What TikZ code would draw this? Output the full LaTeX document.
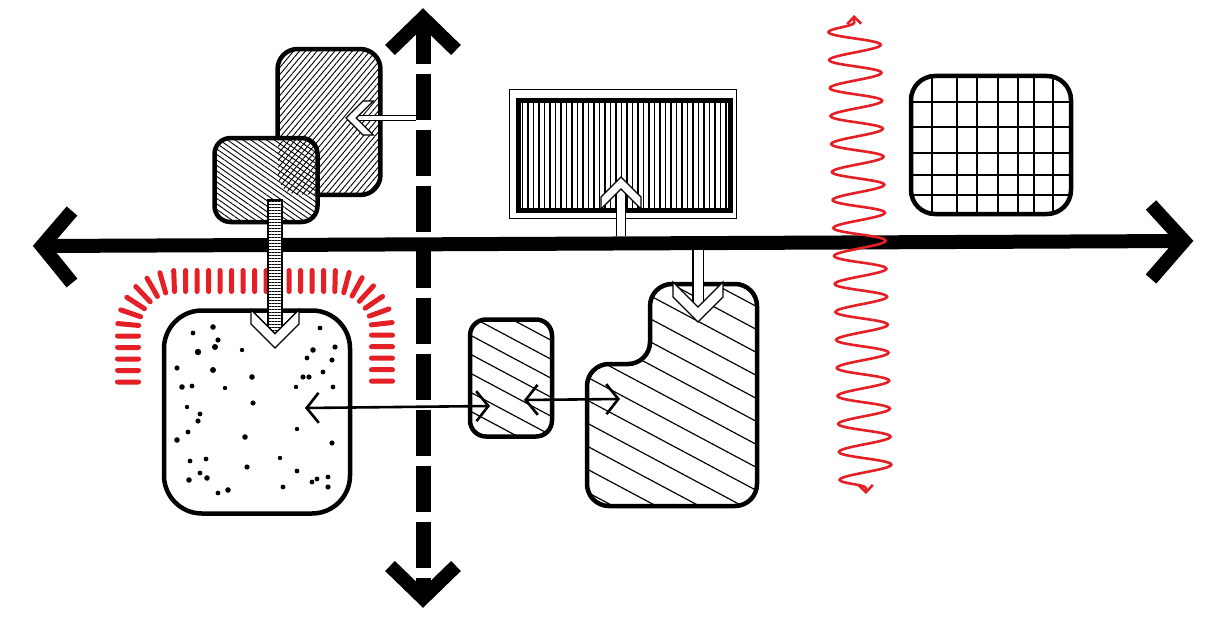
\documentclass[tikz,border=0pt]{standalone}
\usetikzlibrary{patterns.meta,decorations.pathmorphing,decorations.pathreplacing,arrows.meta,calc}
\definecolor{skred}{RGB}{228,32,38}
\tikzset{
  pics/chevron/.style={code={\draw[line width=1.3pt, fill=white, line join=miter] (0,0) -- (-1,1) -- (-1.6,1) -- (-0.6,0) -- (-1.6,-1) -- (-1,-1) -- cycle;}},
}
\begin{document}
\begin{tikzpicture}[x=1pt,y=-1pt,
  box/.style={draw=black, line width=4.5pt, inner sep=0pt, rounded corners=#1},
  axisline/.style={line width=14pt, black},
  chev/.style={line width=14pt, line join=miter, line cap=butt},
  hollow/.style={draw=black, line width=1.3pt, double=white, double distance=#1},
  thinarrow/.style={line width=2.6pt, {Straight Barb[length=12pt,width=30pt]}-{Straight Barb[length=12pt,width=30pt]}},
  redtick/.style={draw=skred, line width=5pt, line cap=round, decorate, decoration={ticks, segment length=11.5pt, amplitude=10.5pt}},
  wave/.style={draw=skred, line width=2.6pt, decorate, decoration={snake, amplitude=26pt, segment length=28pt, pre length=6pt, post length=6pt}},
  hatchline/.style={line width=1.2pt},
]
\path[use as bounding box, fill=white] (0,0) rectangle (1205,618);

% ---------- axes ----------
\coordinate (hL) at (42,246); \coordinate (hR) at (1184,241);
\draw[axisline] (hL) -- (hR);
\draw[chev] (72,211) -- (hL) -- (72,283);
\draw[chev] (1151,205) -- (hR) -- (1151,279);
\coordinate (vT) at (423,18); \coordinate (vB) at (423,598);
\draw[line width=15pt, dash pattern=on 46pt off 10pt] (vT) -- (vB);
\draw[chev] (390,50) -- (vT) -- (456,50);
\draw[chev] (390,566) -- (vB) -- (456,566);

% ---------- upper-left overlapping boxes ----------
\node[inner sep=0pt, rounded corners=20pt, minimum width=102pt, minimum height=145pt,
      pattern={Lines[angle=50,distance=4.5pt,line width=0.9pt]}] (A) at (329,122) {};
\begin{scope}[even odd rule]
  \clip (0,0) rectangle (1205,618) [rounded corners=16pt] (214.5,138) rectangle (317.5,222);
  \draw[line width=4.5pt, rounded corners=20pt] (A.south west) rectangle (A.north east);
\end{scope}
\node[box=16, minimum width=103pt, minimum height=84pt,
      pattern={Lines[angle=-35,distance=4.5pt,line width=0.9pt]}] (B) at (266,180) {};

% arrow from vertical axis to A
\coordinate (aS) at (416,118); \coordinate (aN) at (356,118);
\draw[hollow=4pt] (aS) -- (aN);
\pic[rotate=180, scale=17] at (346,118) {chevron};

% ---------- dotted box ----------
\node[box=38, minimum width=186pt, minimum height=203pt] (C) at (257,412) {};
\foreach \x/\y/\r in {213/327/2.8,193/333/2.4,218/340/2.6,215/347/3,198/352/3.2,177/368/2.6,213/370/3,252/377/2.8,182/387/2.8,192/386/2.4,225/388/2.2,253/403/2.6,200/414/2.4,198/421/2.6,187/407/2.2,188/432/2.4,177/440/2.8,245/437/2.8,297/429/2.2,332/443/2.6,190/461/2.4,206/459/2.4,247/467/2.6,280/458/2.2,297/471/2.4,200/473/2.4,207/478/2.8,189/480/2.8,218/493/2.4,228/490/2.8,283/487/2.4,312/482/2.4,317/479/2.4,328/477/2.4,328/487/2.6,320/328/2.4,313/350/2.8,335/347/2.6,307/358/2.4,332/360/2.6,303/377/2.6,309/377/2.6,323/372/2.4,333/387/2.4,296/387/2.2,242/350/2.2,268/332/2.2}
  \fill (\x,\y) circle (\r pt);

% red arch of ticks
\draw[redtick, rounded corners=48pt] (128,382) -- (128,281) -- (382,281) -- (382,382);

% ladder arrow B -> C
\coordinate (lT) at (275,200); \coordinate (lB) at (275,334);
\draw[line width=1.2pt, fill=white] ($(lT)+(-7,0)$) rectangle ($(lB)+(7,0)$);
\fill[pattern={Lines[angle=0,distance=3pt,line width=0.9pt]}] ($(lT)+(-7,0)$) rectangle ($(lB)+(7,0)$);
\pic[rotate=-90, scale=24] at (275,348) {chevron};

% ---------- small hatched box D ----------
\begin{scope}
  \clip[rounded corners=16pt] (470,319.5) rectangle (552,436.5);
  \foreach \k in {-6,...,6} \draw[hatchline] (440,{300+19*\k}) -- (590,{300+19*\k+80});
\end{scope}
\node[box=16, minimum width=82pt, minimum height=117pt] (D) at (511,378) {};

% ---------- L-shaped box E ----------
\begin{scope}
  \clip[rounded corners=22pt]
    (650,284) -- (757,284) -- (757,506) -- (587,506) -- (587,364) -- (650,364) -- cycle;
  \foreach \k in {-6,...,12} \draw[hatchline] (570,{230+23*\k}) -- (780,{230+23*\k+112});
\end{scope}
\draw[line width=4.5pt, rounded corners=22pt]
  (650,284) -- (757,284) -- (757,506) -- (587,506) -- (587,364) -- (650,364) -- cycle;
\coordinate (E) at (698,322);

% thin double arrows
\coordinate (c1) at (305,408); \coordinate (d1) at (490,406);
\draw[thinarrow] (c1) -- (d1);
\coordinate (d2) at (524,400); \coordinate (e1) at (620,399);
\draw[thinarrow] (d2) -- (e1);

% arrow from horizontal axis down into E
\coordinate (eS) at (698,250);
\draw[hollow=9pt] (eS) -- ($(E)+(0,-14)$);
\pic[rotate=-90, scale=25] at (E) {chevron};

% ---------- framed striped rectangle F ----------
\node[draw, line width=1.4pt, minimum width=227pt, minimum height=129pt, inner sep=0pt] (Fo) at (623,154) {};
\node[draw, line width=5pt, minimum width=212pt, minimum height=110pt, inner sep=0pt,
      pattern={Lines[angle=90,distance=5.5pt,line width=1.6pt]}] (F) at (624,155) {};
\coordinate (fS) at (621,236); \coordinate (fT) at (621,177);
\draw[hollow=8pt] (fS) -- ($(fT)+(0,11)$);
\pic[rotate=90, scale=20] at (fT) {chevron};

% ---------- grid box G ----------
\begin{scope}
  \clip[rounded corners=24pt] (911,76) rectangle (1071,214);
  \foreach \x in {932,957,977,998,1018,1034,1053} \draw[line width=1.8pt] (\x,70) -- (\x,220);
  \foreach \y in {102,127,153,175,195} \draw[line width=1.8pt] (905,\y) -- (1075,\y);
\end{scope}
\node[box=24, minimum width=160pt, minimum height=138pt] (G) at (991,145) {};

% ---------- red wave ----------
\coordinate (wB) at (866,494); \coordinate (wT) at (854,15);
\draw[wave, {Straight Barb[length=7pt,width=14pt]}-{Straight Barb[length=7pt,width=14pt]}] (wB) -- (wT);
\end{tikzpicture}
\end{document}
